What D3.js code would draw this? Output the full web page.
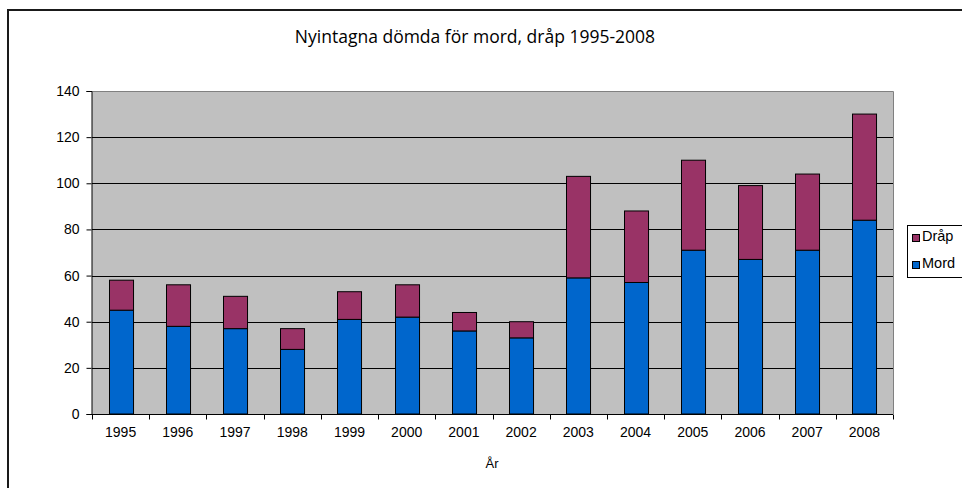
<!DOCTYPE html>
<html lang="en">
<head>
<meta charset="utf-8">
<script type="text/javascript" src="https://cdnjs.cloudflare.com/ajax/libs/d3/7.8.5/d3.min.js"></script>
<style>
  body { margin: 0; background: #fff; }
  svg { display: block; }
</style>
</head>
<body>
<div id="container"></div>
<script type="text/javascript">
    var w = 962;
    var h = 488;

    var years = ["1995", "1996", "1997", "1998", "1999", "2000", "2001",
                 "2002", "2003", "2004", "2005", "2006", "2007", "2008"];
    var mord = [45, 38, 37, 28, 41, 42, 36, 33, 59, 57, 71, 67, 71, 84];
    var drap = [13, 18, 14, 9, 12, 14, 8, 7, 44, 31, 39, 32, 33, 46];
    var yTicks = [0, 20, 40, 60, 80, 100, 120, 140];

    var plot = { left: 92, right: 893, top: 91, bottom: 414 };
    var font = "'Liberation Sans', Arial, sans-serif";

    var svg = d3.select("#container")
                .append("svg")
                .attr("width", w)
                .attr("height", h);

    // outer frame
    svg.append("rect")
        .attr("x", 8).attr("y", 10)
        .attr("width", 1000).attr("height", 1000)
        .attr("fill", "none")
        .attr("stroke", "#1a1a1a")
        .attr("stroke-width", 2);

    svg.append("text")
        .attr("x", 475).attr("y", 43)
        .attr("text-anchor", "middle")
        .attr("font-family", "'Open Sans', sans-serif")
        .attr("font-size", 17.5)
        .attr("fill", "#000")
        .text("Nyintagna dömda för mord, dråp 1995-2008");

    var xscale = d3.scaleBand()
                    .domain(years)
                    .range([plot.left, plot.right])
                    .paddingInner(0.58)
                    .paddingOuter(0.29);

    var yscale = d3.scaleLinear()
                    .domain([0, 140])
                    .range([plot.bottom, plot.top]);

    // plot background
    svg.append("rect")
        .attr("x", plot.left).attr("y", plot.top)
        .attr("width", plot.right - plot.left)
        .attr("height", plot.bottom - plot.top)
        .attr("fill", "#c0c0c0");

    // grid lines
    svg.append("g")
        .selectAll("line")
        .data(yTicks.filter(function (d) { return d > 0 && d < 140; }))
        .enter()
        .append("line")
        .attr("x1", plot.left).attr("x2", plot.right)
        .attr("y1", function (d) { return Math.round(yscale(d)) + 0.5; })
        .attr("y2", function (d) { return Math.round(yscale(d)) + 0.5; })
        .attr("stroke", "#000");

    // top/right border of plot
    svg.append("path")
        .attr("d", "M" + plot.left + "," + (plot.top + 0.5) + "H" + (plot.right + 0.5) + "V" + plot.bottom)
        .attr("fill", "none")
        .attr("stroke", "#808080");

    var stacked = years.map(function (y, i) {
        return { year: y, mord: mord[i], drap: drap[i] };
    });
    var series = d3.stack().keys(["mord", "drap"])(stacked);
    var colors = { mord: "#0066cc", drap: "#993366" };

    svg.append("g")
        .selectAll("g")
        .data(series)
        .enter()
        .append("g")
        .attr("fill", function (d) { return colors[d.key]; })
        .selectAll("rect")
        .data(function (d) { return d; })
        .enter()
        .append("rect")
        .attr("x", function (d) { return Math.round(xscale(d.data.year)) + 0.5; })
        .attr("y", function (d) { return yscale(d[1]); })
        .attr("width", xscale.bandwidth())
        .attr("height", function (d) { return yscale(d[0]) - yscale(d[1]); })
        .attr("stroke", "#000")
        .attr("stroke-width", 1);

    // axes
    var yAxis = d3.axisLeft(yscale)
                  .tickValues(yTicks)
                  .tickSize(5)
                  .tickPadding(7);
    var gy = svg.append("g")
        .attr("transform", "translate(" + (plot.left - 0.5) + ",0)")
        .call(yAxis);

    var xAxis = d3.axisBottom(xscale).tickSize(0).tickPadding(13);
    var gx = svg.append("g")
        .attr("transform", "translate(0," + (plot.bottom + 0.5) + ")")
        .call(xAxis);

    // x ticks between categories
    gx.selectAll("line.sep")
        .data(d3.range(years.length + 1))
        .enter()
        .append("line")
        .attr("class", "sep")
        .attr("x1", function (i) { return Math.round(plot.left + i * (plot.right - plot.left) / years.length) + 0.5; })
        .attr("x2", function (i) { return Math.round(plot.left + i * (plot.right - plot.left) / years.length) + 0.5; })
        .attr("y1", 0).attr("y2", 5)
        .attr("stroke", "#000");

    [gx, gy].forEach(function (g) {
        g.select(".domain").attr("stroke", "#000");
        g.selectAll(".tick line").attr("stroke", "#000");
        g.selectAll("text")
            .attr("font-family", font)
            .attr("font-size", 14)
            .attr("fill", "#000");
    });
    gx.select(".domain").attr("d", "M" + plot.left + ",0H" + plot.right);

    svg.append("text")
        .attr("x", 492).attr("y", 468)
        .attr("text-anchor", "middle")
        .attr("font-family", font)
        .attr("font-size", 13)
        .text("År");

    // legend
    var legend = svg.append("g");
    legend.append("rect")
        .attr("x", 907.5).attr("y", 225.5)
        .attr("width", 80).attr("height", 52)
        .attr("fill", "#fff")
        .attr("stroke", "#000");
    var legendItems = [
        { key: "drap", label: "Dråp", y: 241 },
        { key: "mord", label: "Mord", y: 268 }
    ];
    legend.selectAll("rect.sw")
        .data(legendItems)
        .enter()
        .append("rect")
        .attr("class", "sw")
        .attr("x", 912.5)
        .attr("y", function (d) { return d.y - 6.5; })
        .attr("width", 7).attr("height", 7)
        .attr("fill", function (d) { return colors[d.key]; })
        .attr("stroke", "#000");
    legend.selectAll("text")
        .data(legendItems)
        .enter()
        .append("text")
        .attr("x", 922)
        .attr("y", function (d) { return d.y; })
        .attr("font-family", font)
        .attr("font-size", 14.5)
        .text(function (d) { return d.label; });
</script>
</body>
</html>
